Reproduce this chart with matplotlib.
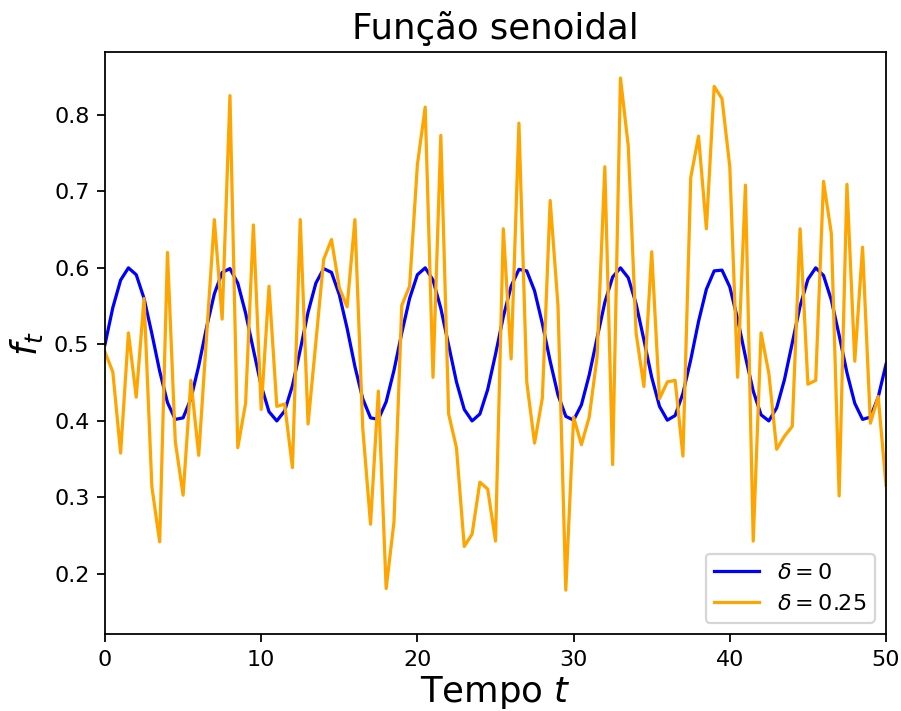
import numpy as np
import matplotlib
matplotlib.use("Agg")
import matplotlib.pyplot as plt

# time grid: 0 .. 50 in steps of 0.5
t = np.linspace(0, 50, 101)

# delta = 0 (clean sinusoid)
f_delta0 = [0.500, 0.548, 0.584, 0.600, 0.591, 0.560, 0.514, 0.465, 0.424, 0.402,
            0.404, 0.429, 0.472, 0.522, 0.566, 0.594, 0.599, 0.580, 0.541, 0.493,
            0.446, 0.412, 0.400, 0.413, 0.446, 0.493, 0.542, 0.580, 0.599, 0.594,
            0.565, 0.521, 0.471, 0.429, 0.404, 0.402, 0.425, 0.466, 0.515, 0.560,
            0.591, 0.600, 0.584, 0.547, 0.499, 0.451, 0.415, 0.400, 0.409, 0.441,
            0.487, 0.536, 0.576, 0.598, 0.596, 0.570, 0.527, 0.478, 0.434, 0.406,
            0.401, 0.421, 0.460, 0.508, 0.555, 0.588, 0.600, 0.587, 0.553, 0.506,
            0.457, 0.419, 0.401, 0.407, 0.436, 0.480, 0.530, 0.572, 0.596, 0.597,
            0.575, 0.533, 0.484, 0.439, 0.408, 0.400, 0.417, 0.454, 0.502, 0.550,
            0.585, 0.600, 0.590, 0.558, 0.512, 0.463, 0.423, 0.402, 0.405, 0.431,
            0.474]

# delta = 0.25 (noisy series)
f_delta025 = [0.490, 0.464, 0.358, 0.515, 0.431, 0.560, 0.314, 0.242, 0.620, 0.373,
              0.303, 0.453, 0.355, 0.510, 0.663, 0.533, 0.825, 0.365, 0.423, 0.656,
              0.415, 0.576, 0.419, 0.422, 0.339, 0.663, 0.396, 0.503, 0.611, 0.637,
              0.574, 0.549, 0.663, 0.391, 0.265, 0.439, 0.181, 0.268, 0.551, 0.576,
              0.735, 0.810, 0.457, 0.773, 0.409, 0.365, 0.236, 0.252, 0.320, 0.311,
              0.243, 0.651, 0.481, 0.789, 0.451, 0.371, 0.430, 0.688, 0.551, 0.179,
              0.405, 0.369, 0.405, 0.483, 0.732, 0.343, 0.848, 0.759, 0.515, 0.445,
              0.621, 0.429, 0.451, 0.453, 0.354, 0.718, 0.772, 0.651, 0.837, 0.821,
              0.732, 0.457, 0.708, 0.243, 0.515, 0.462, 0.363, 0.380, 0.393, 0.651,
              0.448, 0.453, 0.713, 0.645, 0.302, 0.709, 0.478, 0.627, 0.397, 0.432,
              0.316]


def main():
    dpi = 160
    fig = plt.figure(figsize=(901 / dpi, 711 / dpi), dpi=dpi)
    ax = fig.add_axes([105 / 901, 77 / 711, 781 / 901, 582 / 711])

    ax.plot(t, f_delta0, color="blue", lw=1.45, label=r"$\delta = 0$")
    ax.plot(t, f_delta025, color="orange", lw=1.45, label=r"$\delta = 0.25$")

    ax.set_xlim(0, 50)
    ax.set_ylim(0.1216, 0.882)
    ax.set_yticks([0.2, 0.3, 0.4, 0.5, 0.6, 0.7, 0.8])
    ax.set_title("Função senoidal", fontsize=16)
    ax.set_xlabel(r"Tempo $t$", fontsize=16, labelpad=2)
    ax.set_ylabel(r"$f_t$", fontsize=16)
    ax.legend(loc="lower right")

    fig.savefig("out.png", dpi=dpi)


if __name__ == "__main__":
    main()
